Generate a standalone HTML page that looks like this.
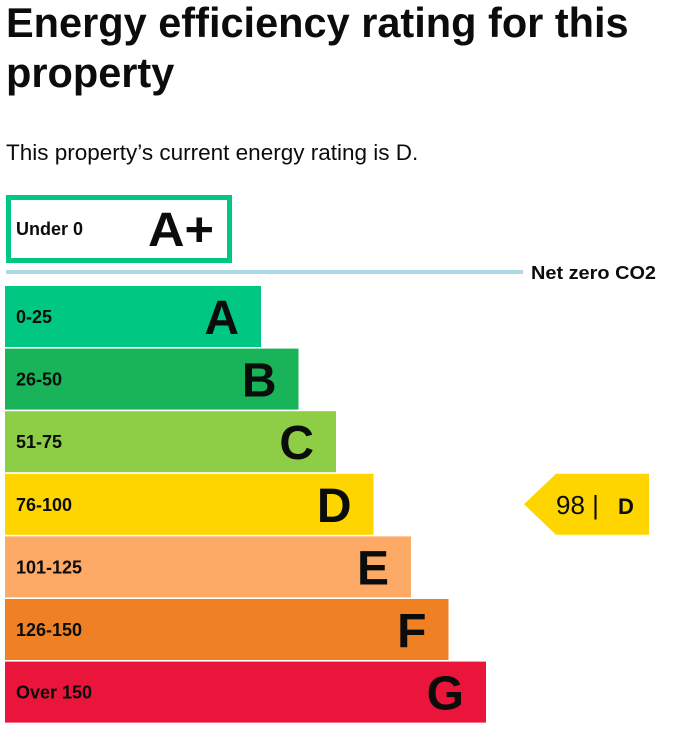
<!DOCTYPE html>
<html><head><meta charset="utf-8"><style>
body{margin:0;background:#fff;width:681px;height:737px;overflow:hidden;font-family:"Liberation Sans",sans-serif}
h1{position:absolute;left:6px;top:-2px;margin:0;font-size:41.5px;line-height:50px;font-weight:bold;color:#0b0c0c;width:675px}
p{position:absolute;left:6px;top:140px;margin:0;font-size:22.5px;color:#0b0c0c}
svg{position:absolute;left:0;top:0}
</style></head><body>
<h1>Energy efficiency rating for this property</h1>
<p>This property’s current energy rating is D.</p>
<svg id="chart" width="681" height="737"></svg>
<script>
const bands=["A","B","C","D","E","F","G"];
const ranges=["0-25","26-50","51-75","76-100","101-125","126-150","Over 150"];
const colors=["#00c781","#19b459","#8dce46","#ffd500","#fcaa65","#ef8023","#e9153b"];
const currentScore=98;
const currentBand="D";
const NS="http://www.w3.org/2000/svg";
const svg=document.getElementById('chart');
function mk(t,a,txt){const e=document.createElementNS(NS,t);for(const k in a)e.setAttribute(k,a[k]);if(txt!==undefined)e.textContent=txt;svg.appendChild(e);return e;}
r=mk('rect',{x:8.5,y:197.5,width:221,height:63,fill:'#fff',stroke:'#00c781','stroke-width':5});


let t=mk('text',{x:16,y:235,'font-size':18,'font-weight':'bold',fill:'#0b0c0c'},'Under 0');


t=mk('text',{x:148,y:246,'font-size':48,'font-weight':'bold',fill:'#0b0c0c',textLength:66,lengthAdjust:'spacingAndGlyphs'},'A+');


r=mk('rect',{x:6,y:270,width:517,height:4,fill:'#add8e6'});


t=mk('text',{x:531,y:279,'font-size':18,'font-weight':'bold',fill:'#0b0c0c',textLength:125,lengthAdjust:'spacingAndGlyphs'},'Net zero CO2');


const top0=286,step=62.6,h=61,x0=5,w0=256,dw=37.5;
function yOf(i){return top0+i*step;}
bands.forEach((b,i)=>{
  const y=yOf(i),w=w0+i*dw;
  const rr=mk('rect',{x:x0,y:y,width:w,height:h,fill:colors[i]});
  
  
  const tr=mk('text',{x:16,y:y+37,'font-size':18,'font-weight':'bold',fill:'#0b0c0c'},ranges[i]);
  
  
  const tl=mk('text',{x:x0+w-22,y:y+48,'font-size':48,'font-weight':'bold',fill:'#0b0c0c','text-anchor':'end'},b);
  
  
});
const ci=bands.indexOf(currentBand),py=yOf(ci);
const pg=mk('polygon',{points:`524,${py+h/2} 556,${py} 649,${py} 649,${py+h} 556,${py+h}`,fill:colors[ci]});


t=mk('text',{x:556,y:py+40,'font-size':26,fill:'#0b0c0c'},currentScore+' |');


t=mk('text',{x:618,y:py+40,'font-size':22,'font-weight':'bold',fill:'#0b0c0c'},currentBand);


</script>
</body></html>
